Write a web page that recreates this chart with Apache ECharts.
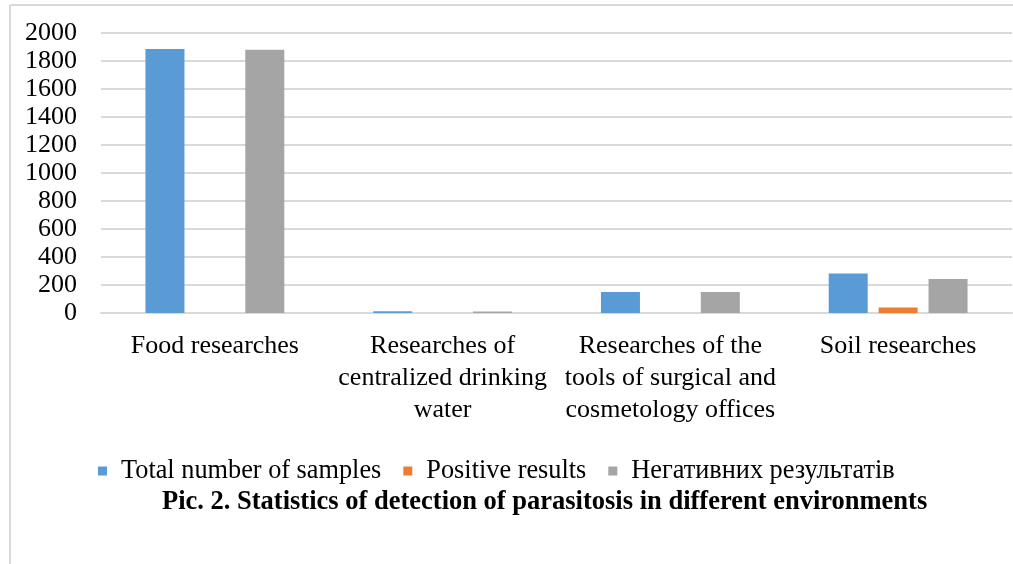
<!DOCTYPE html>
<html lang="en">
<head>
    <meta charset="UTF-8">
    <title>Pic. 2</title>
    <script src="https://cdn.jsdelivr.net/npm/echarts@6/dist/echarts.min.js"></script>
    <style>
        html, body { margin: 0; padding: 0; background: #fff; }
        #chart { width: 1013px; height: 564px; }
    </style>
</head>
<body>
    <div id="chart"></div>
    <script type="text/javascript">
        // categories and values
        var categories = [
            'Food researches',
            'Researches of\ncentralized drinking\nwater',
            'Researches of the\ntools of surgical and\ncosmetology offices',
            'Soil researches'
        ];
        var totalSamples = [1886, 12, 150, 282];
        var positiveResults = [0, 0, 0, 39];
        var negativeResults = [1880, 10, 150, 243];
        var yTicks = [0, 200, 400, 600, 800, 1000, 1200, 1400, 1600, 1800, 2000];

        var font = '"Liberation Serif", "Times New Roman", serif';
        var myChart = echarts.init(document.getElementById('chart'));
        var option = {
            animation: false,
            backgroundColor: '#fff',
            title: {
                text: 'Pic. 2. Statistics of detection of parasitosis in different environments',
                left: 157,
                top: 484,
                textStyle: { fontFamily: font, fontSize: 26.5, fontWeight: 'bold', color: '#000' }
            },
            legend: {
                left: 93,
                top: 453,
                icon: 'rect',
                itemWidth: 9,
                itemHeight: 9,
                itemGap: 22,
                textStyle: { fontFamily: font, fontSize: 26.3, color: '#000', padding: [0, 0, 0, 9] },
                data: ['Total number of samples', 'Positive results', 'Негативних результатів']
            },
            graphic: [
                { type: 'line', shape: { x1: 10, y1: 5, x2: 1013, y2: 5 }, style: { stroke: '#d9d9d9', lineWidth: 2 } },
                { type: 'line', shape: { x1: 10, y1: 5, x2: 10, y2: 564 }, style: { stroke: '#d9d9d9', lineWidth: 2 } }
            ],
            grid: { left: 101, right: 1, top: 33, bottom: 251 },
            xAxis: {
                type: 'category',
                data: categories,
                axisLine: { lineStyle: { color: '#d9d9d9', width: 2 } },
                axisTick: { show: false },
                axisLabel: {
                    fontFamily: font, fontSize: 26, color: '#000', margin: 17,
                    lineHeight: 32, interval: 0, align: 'center'
                }
            },
            yAxis: {
                type: 'value',
                min: yTicks[0],
                max: yTicks[yTicks.length - 1],
                interval: 200,
                axisLine: { show: false },
                axisTick: { show: false },
                splitLine: { lineStyle: { color: '#d9d9d9', width: 2 } },
                axisLabel: {
                    fontFamily: font, fontSize: 26, color: '#000', margin: 24,
                    formatter: function (v) { return String(v); }
                }
            },
            series: [
                { name: 'Total number of samples', type: 'bar', data: totalSamples, barWidth: 39, barGap: '28%', itemStyle: { color: '#5b9bd5' } },
                { name: 'Positive results', type: 'bar', data: positiveResults, barWidth: 39, barGap: '28%', itemStyle: { color: '#ed7d31' } },
                { name: 'Негативних результатів', type: 'bar', data: negativeResults, barWidth: 39, barGap: '28%', itemStyle: { color: '#a5a5a5' } }
            ]
        };
        myChart.setOption(option);
    </script>
</body>
</html>
